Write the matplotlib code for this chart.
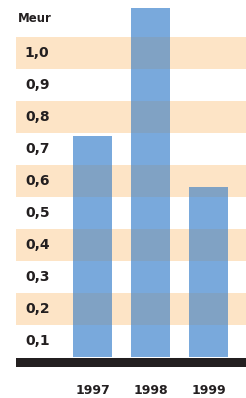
import matplotlib
matplotlib.use('Agg')
import matplotlib.pyplot as plt

# data
years = ['1997', '1998', '1999']
values = [0.69, 1.09, 0.53]
rows = [0.1, 0.2, 0.3, 0.4, 0.5, 0.6, 0.7, 0.8, 0.9, 1.0]
row_labels = ['0,1', '0,2', '0,3', '0,4', '0,5', '0,6', '0,7', '0,8', '0,9', '1,0']
unit = 'Meur'

BAR = '#79a9dc'
BAND = '#fde4c6'
OVER = '#80a2c4'
TEXT = '#231f20'

fig = plt.figure(figsize=(2.46, 3.98), dpi=100)
ax = fig.add_axes([0, 0, 1, 1])
ax.set_xlim(-1.595, 2.647)
ax.set_ylim(-0.128, 1.116)
ax.axis('off')

x = list(range(len(years)))
width = 0.672
left_frac = 16 / 246

# alternating bands, shaded for every second row
for i, top in enumerate(rows):
    if i % 2 == 1:
        ax.axhspan(top - 0.1, top, xmin=left_frac, xmax=1, color=BAND, lw=0, zorder=1)

ax.bar(x, values, width=width, color=BAR, zorder=2)

# darker where bar crosses a band
for xi, v in zip(x, values):
    for i, top in enumerate(rows):
        if i % 2 == 1 and v > top - 0.1:
            ax.bar(xi, min(v, top) - (top - 0.1), bottom=top - 0.1,
                   width=width, color=OVER, zorder=3)

for top, lab in zip(rows, row_labels):
    ax.text(-1.165, top - 0.05, lab, ha='left', va='center', fontsize=10,
            fontweight='bold', color=TEXT, zorder=4)

ax.text(-1.28, 1.058, unit, ha='left', va='center', fontsize=8.5,
        fontweight='bold', color=TEXT)

# baseline
ax.axhspan(-0.031, -0.002, xmin=left_frac, xmax=1, color=TEXT, lw=0, zorder=4)

for xi, y in zip(x, years):
    ax.text(xi, -0.106, y, ha='center', va='center', fontsize=9,
            fontweight='bold', color=TEXT)

fig.savefig('out.png', dpi=100)
